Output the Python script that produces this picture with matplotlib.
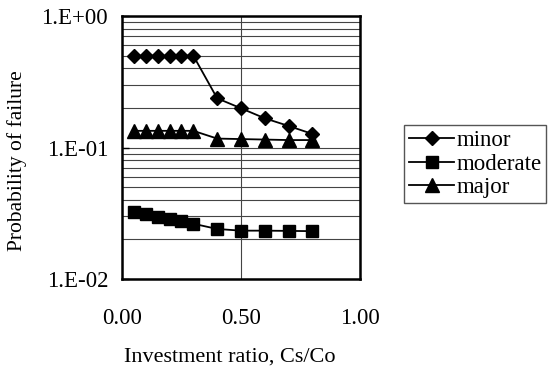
import math
import matplotlib
matplotlib.use("Agg")
import matplotlib.pyplot as plt
from matplotlib.ticker import FixedLocator, FuncFormatter, LogLocator, NullFormatter

plt.rcParams['font.family'] = ['Liberation Serif', 'DejaVu Serif']

x = [0.05, 0.10, 0.15, 0.20, 0.25, 0.30, 0.40, 0.50, 0.60, 0.70, 0.80]
minor = [0.50, 0.50, 0.50, 0.50, 0.50, 0.50, 0.237, 0.199, 0.167, 0.146, 0.127]
moderate = [0.0325, 0.0311, 0.0298, 0.0285, 0.0274, 0.0263, 0.0240, 0.0233, 0.0233, 0.0232, 0.0231]
major = [0.134, 0.134, 0.134, 0.134, 0.134, 0.134, 0.117, 0.116, 0.115, 0.114, 0.114]
series_names = ["minor", "moderate", "major"]
x_ticks = [0.0, 0.5, 1.0]
y_ticks = [0.01, 0.1, 1.0]

fig = plt.figure(figsize=(5.52, 3.67), dpi=100)
ax = fig.add_axes([0.221, 0.240, 0.431, 0.716])

ax.set_yscale('log')
ax.set_xlim(0, 1)
ax.set_ylim(0.01, 1)

ax.plot(x, minor, color='black', lw=1.3, marker='D', ms=7.5, label=series_names[0])
ax.plot(x, moderate, color='black', lw=1.3, marker='s', ms=8.5, label=series_names[1])
ax.plot(x, major, color='black', lw=1.3, marker='^', ms=10, label=series_names[2])

ax.xaxis.set_major_locator(FixedLocator(x_ticks))
ax.xaxis.set_major_formatter(FuncFormatter(lambda v, p: f"{v:.2f}"))
ax.yaxis.set_major_locator(FixedLocator(y_ticks))
ax.yaxis.set_minor_locator(LogLocator(base=10, subs=range(2, 10)))
ax.yaxis.set_minor_formatter(NullFormatter())

def yfmt(v, p):
    e = int(round(math.log10(v)))
    return f"1.E{'+' if e >= 0 else '-'}{abs(e):02d}"
ax.yaxis.set_major_formatter(FuncFormatter(yfmt))

ax.grid(True, which='major', axis='x', color='#444444', lw=0.8)
ax.grid(True, which='both', axis='y', color='#444444', lw=0.8)
ax.set_axisbelow(True)

ax.tick_params(axis='x', which='both', length=0, pad=21, labelsize=16.5)
ax.tick_params(axis='y', which='major', direction='in', length=5, width=1, pad=10, labelsize=16.5)
ax.tick_params(axis='y', which='minor', length=0)

for s in ax.spines.values():
    s.set_linewidth(1.8)
    s.set_color('black')

ax.set_xlabel("Investment ratio, Cs/Co", fontsize=16)
ax.xaxis.set_label_coords(0.454, -0.26)
ax.set_ylabel("Probability of failure", fontsize=15.5)
ax.yaxis.set_label_coords(-0.40, 0.449)

leg = fig.legend(loc='center left', bbox_to_anchor=(0.732, 0.553), fontsize=16.5,
                 frameon=True, fancybox=False, edgecolor='#555555', framealpha=1,
                 handlelength=2.0, handletextpad=0.1, labelspacing=0.12,
                 borderpad=0.2, borderaxespad=0)
leg.get_frame().set_linewidth(1.0)

fig.savefig("out.png", dpi=100)
